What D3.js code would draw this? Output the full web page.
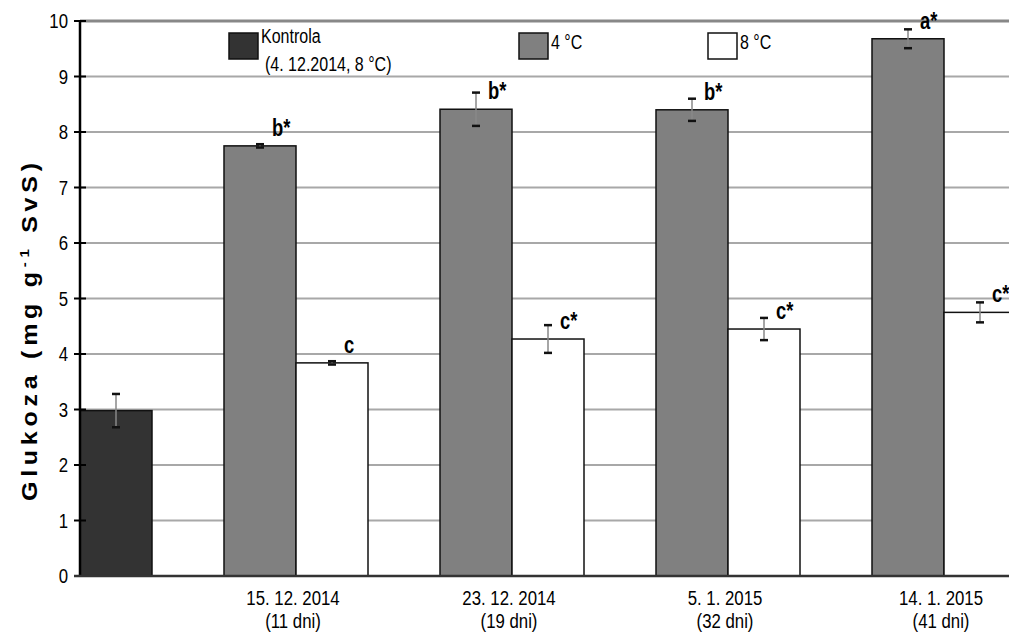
<!DOCTYPE html>
<html>
<head>
<meta charset="utf-8">
<script src="https://cdn.jsdelivr.net/npm/d3@7"></script>
<style>
  body { margin: 0; background: #fff; }
  svg { display: block; font-family: "Liberation Sans", Arial, sans-serif; }
</style>
</head>
<body>
<svg id="chart" width="1009" height="632"></svg>
<script>
// values
const dates = ["15. 12. 2014", "23. 12. 2014", "5. 1. 2015", "14. 1. 2015"];
const days = ["(11 dni)", "(19 dni)", "(32 dni)", "(41 dni)"];
const controlValue = [2.98];
const controlErr = [0.30];
const cold4 = [7.75, 8.41, 8.40, 9.68];
const cold4Err = [0.03, 0.30, 0.20, 0.17];
const warm8 = [3.84, 4.27, 4.45, 4.75];
const warm8Err = [0.03, 0.25, 0.20, 0.18];
const cold4Sig = ["b*", "b*", "b*", "a*"];
const warm8Sig = ["c", "c*", "c*", "c*"];
const yTicks = [0, 1, 2, 3, 4, 5, 6, 7, 8, 9, 10];

function chart()
{
    let svg = d3.select("#chart");
    let width = +svg.attr("width");
    const sx = 0.8;   // picture is squeezed sideways, so is the text

    let y = d3.scaleLinear().domain([0, 10]).range([576, 21]);
    // category index -> left edge of its slot
    let x = d3.scaleLinear().domain([0, 4]).range([80, 944]);
    let bw = (x(1) - x(0)) / 3;

    function label(g, px, py, txt, size, anchor, bold) {
        return g.append("text")
            .attr("transform", "translate(" + px + "," + py + ") scale(" + sx + ",1)")
            .attr("text-anchor", anchor || "start")
            .attr("font-size", size)
            .attr("font-weight", bold ? "bold" : null)
            .attr("fill", "#000")
            .text(txt);
    }

    // grid
    svg.append("g").selectAll("line")
        .data(yTicks.slice(1))
        .join("line")
        .attr("x1", x(0)).attr("x2", width)
        .attr("y1", d => y(d)).attr("y2", d => y(d))
        .attr("stroke", d => d === 10 ? "#888" : "#a8a8a8")
        .attr("stroke-width", d => d === 10 ? 3 : 2);

    // bars
    let rows = [{v: controlValue[0], e: controlErr[0], x0: x(0), fill: "#333333", sig: null}];
    dates.forEach(function (d, i) {
        rows.push({v: cold4[i], e: cold4Err[i], x0: x(i + 1) - bw, fill: "#808080", sig: cold4Sig[i]});
        rows.push({v: warm8[i], e: warm8Err[i], x0: x(i + 1), fill: "#ffffff", sig: warm8Sig[i]});
    });

    svg.append("g").selectAll("rect")
        .data(rows)
        .join("rect")
        .attr("x", d => d.x0)
        .attr("y", d => y(d.v))
        .attr("width", bw)
        .attr("height", d => y(0) - y(d.v))
        .attr("fill", d => d.fill)
        .attr("stroke", "#111")
        .attr("stroke-width", 1.5);

    // error bars
    let err = svg.append("g");
    rows.forEach(function (d) {
        let cx = d.x0 + bw / 2;
        err.append("line")
            .attr("x1", cx).attr("x2", cx)
            .attr("y1", y(d.v + d.e)).attr("y2", y(d.v - d.e))
            .attr("stroke", "#888").attr("stroke-width", 1.5);
        [d.v + d.e, d.v - d.e].forEach(function (v) {
            err.append("line")
                .attr("x1", cx - 4).attr("x2", cx + 4)
                .attr("y1", y(v)).attr("y2", y(v))
                .attr("stroke", "#111").attr("stroke-width", 2.5);
        });
        if (d.sig) label(err, cx + 12, y(d.v) - 10, d.sig, 23, "start", true);
    });

    // Y axis
    let ax = svg.append("g");
    ax.append("line").attr("x1", 80).attr("x2", 80).attr("y1", y(10)).attr("y2", y(0))
        .attr("stroke", "#000").attr("stroke-width", 2.5);
    ax.selectAll(".tk").data(yTicks).join("line")
        .attr("x1", 74).attr("x2", 86)
        .attr("y1", d => y(d)).attr("y2", d => y(d))
        .attr("stroke", "#000").attr("stroke-width", 2);
    yTicks.forEach(function (t) {
        label(ax, 68, y(t) + 7, t, 21, "end");
    });

    // X axis
    ax.append("line").attr("x1", 74).attr("x2", width).attr("y1", y(0)).attr("y2", y(0))
        .attr("stroke", "#333").attr("stroke-width", 2.5);
    dates.forEach(function (d, i) {
        label(ax, x(i + 1) - 3, 605, d, 21, "middle");
        label(ax, x(i + 1) - 3, 628, days[i], 21, "middle");
    });

    // y title
    let t = svg.append("text")
        .attr("transform", "translate(37,332) rotate(-90) scale(1,0.85)")
        .attr("text-anchor", "middle")
        .attr("font-size", 25)
        .attr("font-weight", "bold")
        .attr("textLength", 338)
        .attr("lengthAdjust", "spacing");
    t.append("tspan").text("Glukoza (mg g");
    t.append("tspan").attr("font-size", 15).attr("dy", -10).text("-1");
    t.append("tspan").attr("dy", 10).text(" SvS)");

    // legend
    let lg = svg.append("g");
    let legend = [
        {x: 229, fill: "#333333", lines: ["Kontrola", "(4. 12.2014, 8 °C)"]},
        {x: 519, fill: "#808080", lines: ["4 °C"]},
        {x: 708, fill: "#ffffff", lines: ["8 °C"]}
    ];
    legend.forEach(function (l) {
        lg.append("rect").attr("x", l.x).attr("y", 33).attr("width", 29).attr("height", 26)
            .attr("fill", l.fill).attr("stroke", "#111").attr("stroke-width", 1.5);
        label(lg, l.x + 32, 43 + (l.lines.length === 1 ? 6 : 0), l.lines[0], 20);
        if (l.lines[1]) label(lg, l.x + 36, 71, l.lines[1], 20);
    });
}

chart();
</script>
</body>
</html>
